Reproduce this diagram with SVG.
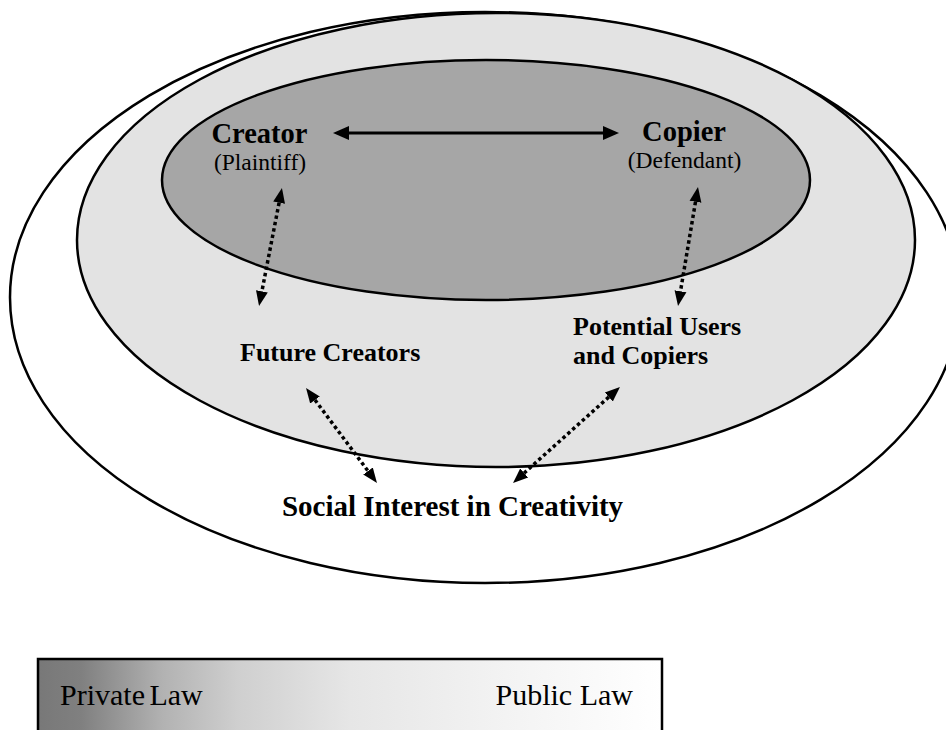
<svg xmlns="http://www.w3.org/2000/svg" width="946" height="730" viewBox="0 0 946 730">
  <style>
    .ring { stroke: #000; stroke-width: 2.5; }
    .label { font-family: "Liberation Serif", "Times New Roman", serif; fill: #000; }
    .bold { font-weight: bold; }
    .solid { fill: none; stroke: #000; stroke-width: 3; }
    .dotted { fill: none; stroke: #000; stroke-width: 3.5; stroke-dasharray: 3.5 3; }
  </style>
  <defs>
    <marker id="headSolid" markerUnits="userSpaceOnUse" markerWidth="18" markerHeight="16" refX="0" refY="8" orient="auto-start-reverse" viewBox="0 0 18 16">
      <path d="M0,1 L16,8 L0,15 Z" fill="#000"/>
    </marker>
    <marker id="headDot" markerUnits="userSpaceOnUse" markerWidth="16" markerHeight="14" refX="0" refY="7" orient="auto-start-reverse" viewBox="0 0 16 14">
      <path d="M0,1 L15,7 L0,13 Z" fill="#000"/>
    </marker>
    <linearGradient id="lawScale" x1="38" y1="0" x2="662" y2="0" gradientUnits="userSpaceOnUse">
      <stop offset="0" stop-color="#787878"/>
      <stop offset="0.07" stop-color="#808080"/>
      <stop offset="0.2" stop-color="#b2b2b2"/>
      <stop offset="0.32" stop-color="#cfcfcf"/>
      <stop offset="0.5" stop-color="#e6e6e6"/>
      <stop offset="0.75" stop-color="#f3f3f3"/>
      <stop offset="1" stop-color="#ffffff"/>
    </linearGradient>
  </defs>

  <!-- nested circles of interest -->
  <g id="society">
    <ellipse class="ring" cx="485" cy="297.5" rx="475" ry="285.5" fill="#ffffff"/>
  </g>
  <g id="public-sphere">
    <ellipse class="ring" cx="496" cy="240" rx="419" ry="227" fill="#e3e3e3"/>
  </g>
  <g id="litigation">
    <ellipse class="ring" cx="486" cy="180" rx="324" ry="120" fill="#a6a6a6"/>
  </g>

  <!-- connectors -->
  <g id="connectors">
    <path class="solid" d="M349,133 L603,133" marker-start="url(#headSolid)" marker-end="url(#headSolid)"/>
    <path class="dotted" d="M279.1,202.7 L261.9,291.3" marker-start="url(#headDot)" marker-end="url(#headDot)"/>
    <path class="dotted" d="M695.5,201.8 L680.5,291.2" marker-start="url(#headDot)" marker-end="url(#headDot)"/>
    <path class="dotted" d="M315,400 L368,471" marker-start="url(#headDot)" marker-end="url(#headDot)"/>
    <path class="dotted" d="M608.8,397 L524.2,473" marker-start="url(#headDot)" marker-end="url(#headDot)"/>
  </g>

  <!-- parties and interests -->
  <g id="creator">
    <text class="label bold" x="259.5" y="143" font-size="28.5" text-anchor="middle">Creator</text>
    <text class="label" x="260" y="170" font-size="23.5" text-anchor="middle">(Plaintiff)</text>
  </g>
  <g id="copier">
    <text class="label bold" x="684" y="141" font-size="28.5" text-anchor="middle">Copier</text>
    <text class="label" x="684.5" y="168" font-size="23.5" text-anchor="middle">(Defendant)</text>
  </g>
  <g id="future-creators">
    <text class="label bold" x="240" y="361" font-size="26">Future Creators</text>
  </g>
  <g id="potential-users">
    <text class="label bold" x="573" y="335" font-size="26">Potential Users</text>
    <text class="label bold" x="573" y="364" font-size="26">and Copiers</text>
  </g>
  <g id="social-interest">
    <text class="label bold" x="452.5" y="516" font-size="29" text-anchor="middle">Social Interest in Creativity</text>
  </g>

  <!-- private-to-public scale -->
  <g id="law-scale">
    <rect x="38" y="659" width="624" height="100" fill="url(#lawScale)" stroke="#000" stroke-width="2.5"/>
    <text class="label" x="60" y="705" font-size="30" word-spacing="-3">Private Law</text>
    <text class="label" x="633" y="705" font-size="30" text-anchor="end">Public Law</text>
  </g>
</svg>
